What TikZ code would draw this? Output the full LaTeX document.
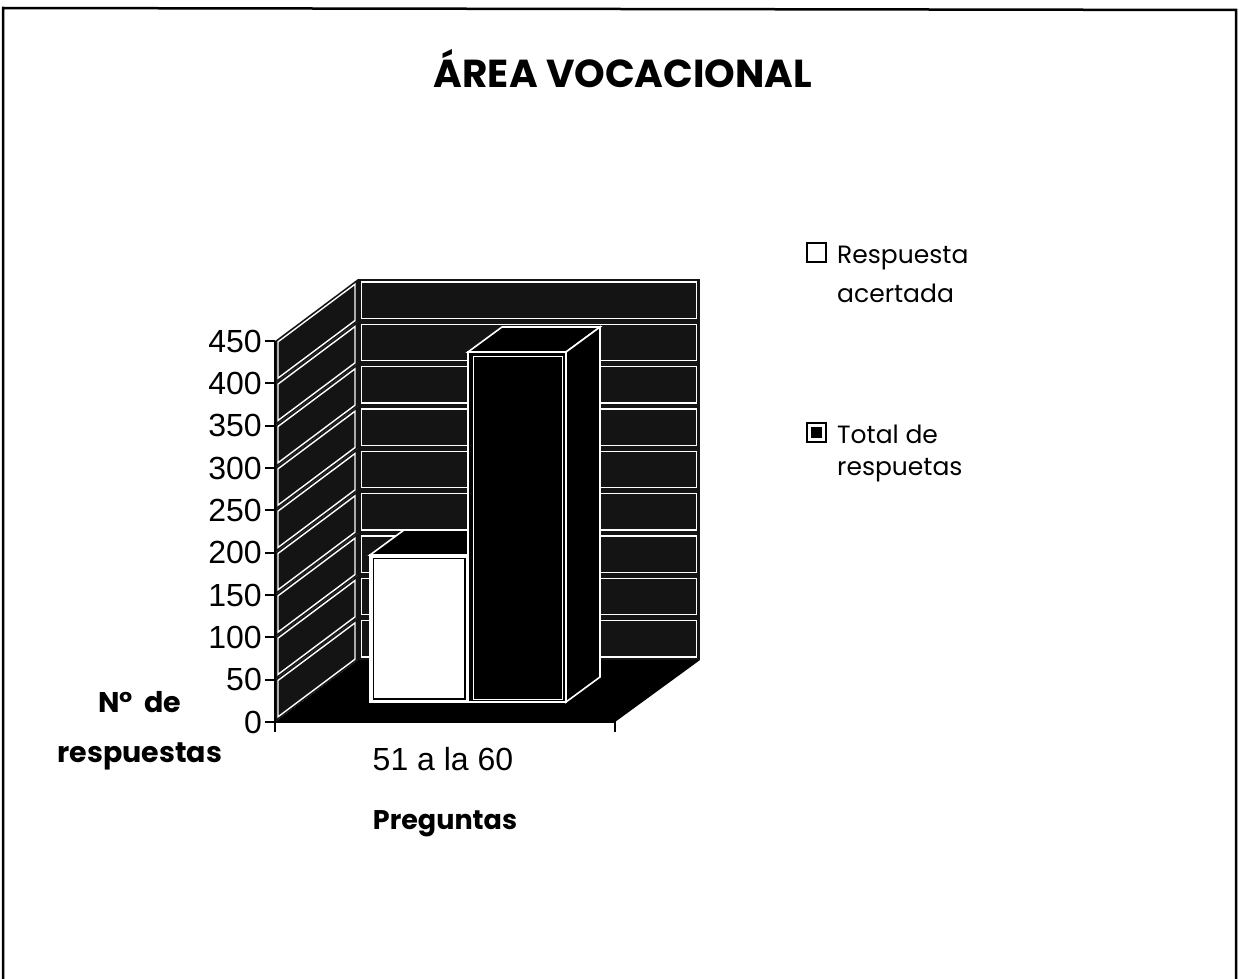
\documentclass[tikz,border=0pt]{standalone}
\usepackage{fontspec}
\setmainfont{Liberation Sans}
\newfontfamily\comic{Poppins}
\begin{document}
\begin{tikzpicture}[x=1pt,y=-1pt]
\tikzset{
  wallfill/.style={fill=black!92},
  bandline/.style={draw=white,line width=1.4pt},
  axisline/.style={draw=black,line width=2pt},
  barline/.style={draw=white,line width=1.6pt},
  ticklab/.style={anchor=east,inner sep=0pt,font=\fontsize{32}{32}\selectfont},
  boldlab/.style={inner sep=0pt,font=\comic\bfseries\fontsize{27}{27}\selectfont},
  legtext/.style={anchor=base west,inner sep=0pt,font=\comic\fontsize{25}{25}\selectfont},
}
\useasboundingbox (0,0) rectangle (1239,979);
\fill[white] (0,0) rectangle (1239,979);
% frame
\draw[line width=2.5pt] (3,979) -- (3,8) -- (1236,10) -- (1236,979);
% title
\node[boldlab,anchor=base,font=\comic\bfseries\fontsize{39}{39}\selectfont] (title) at (623,88) {ÁREA VOCACIONAL};
% left wall and back wall bands
\foreach \k in {0,...,8} {
  \pgfmathsetmacro\ya{722-42.333*\k}
  \pgfmathsetmacro\yb{722-42.333*(\k+1)}
  \fill[wallfill] (275,\ya) -- (358,\ya-62) -- (358,\yb-62) -- (275,\yb) -- cycle;
  \draw[bandline] (278,\ya-5.2) -- (355,\ya-62.8) -- (355,\yb-56.8) -- (278,\yb+0.8) -- cycle;
  \fill[wallfill] (358,\ya-62) rectangle (700,\yb-62);
  \draw[bandline] (361.5,\ya-65) rectangle (696.5,\yb-59);
}
% floor
\fill[black] (275,722) -- (615,722) -- (700,660) -- (358,660) -- cycle;
% white bar (Respuesta acertada)
\filldraw[fill=black,barline] (370,555) -- (404,530) -- (502,530) -- (468,555) -- cycle;
\filldraw[fill=white,barline] (370,555) rectangle (468,702);
\draw[black,line width=1.2pt] (373.5,558.5) rectangle (465,699);
% black bar (Total de respuetas)
\filldraw[fill=black,barline] (468,352) -- (502,327) -- (600,327) -- (566,352) -- cycle;
\filldraw[fill=black,barline] (566,352) -- (600,327) -- (600,677) -- (566,702) -- cycle;
\filldraw[fill=black,barline] (468,352) rectangle (566,702);
\draw[white,line width=1pt] (473,356) rectangle (562,699);
% axes
\draw[axisline] (275,341) -- (275,732);
\draw[axisline] (275,722) -- (615,722) -- (615,732);
\foreach \k/\lab in {0/0,1/50,2/100,3/150,4/200,5/250,6/300,7/350,8/400,9/450} {
  \pgfmathsetmacro\yk{722-42.333*\k}
  \draw[axisline] (265,\yk) -- (275,\yk);
  \node[ticklab] (t\k) at (262,\yk) {\lab};
}
% axis titles
\node[boldlab,anchor=base,font=\comic\bfseries\fontsize{28.5}{28.5}\selectfont] (ytitA) at (140,712) {N°\hspace{0.4em}de};
\node[boldlab,anchor=base,font=\comic\bfseries\fontsize{28.5}{28.5}\selectfont] (ytitB) at (140,762) {respuestas};
\node[anchor=base,inner sep=0pt,font=\fontsize{32}{32}\selectfont] (cat) at (443,770) {51 a la 60};
\node[boldlab,anchor=base] (xtit) at (445,829) {Preguntas};
% legend
\draw[black,line width=2.5pt,fill=white] (807,243) rectangle (826,262);
\node[legtext] (l1a) at (837,263) {Respuesta};
\node[legtext] (l1b) at (837,302) {acertada};
\draw[black,line width=2.5pt,fill=white] (807,423) rectangle (826,442);
\fill[black] (811,427) rectangle (822,438);
\node[legtext] (l2a) at (837,443) {Total de};
\node[legtext] (l2b) at (837,475) {respuetas};
\end{tikzpicture}
\end{document}
